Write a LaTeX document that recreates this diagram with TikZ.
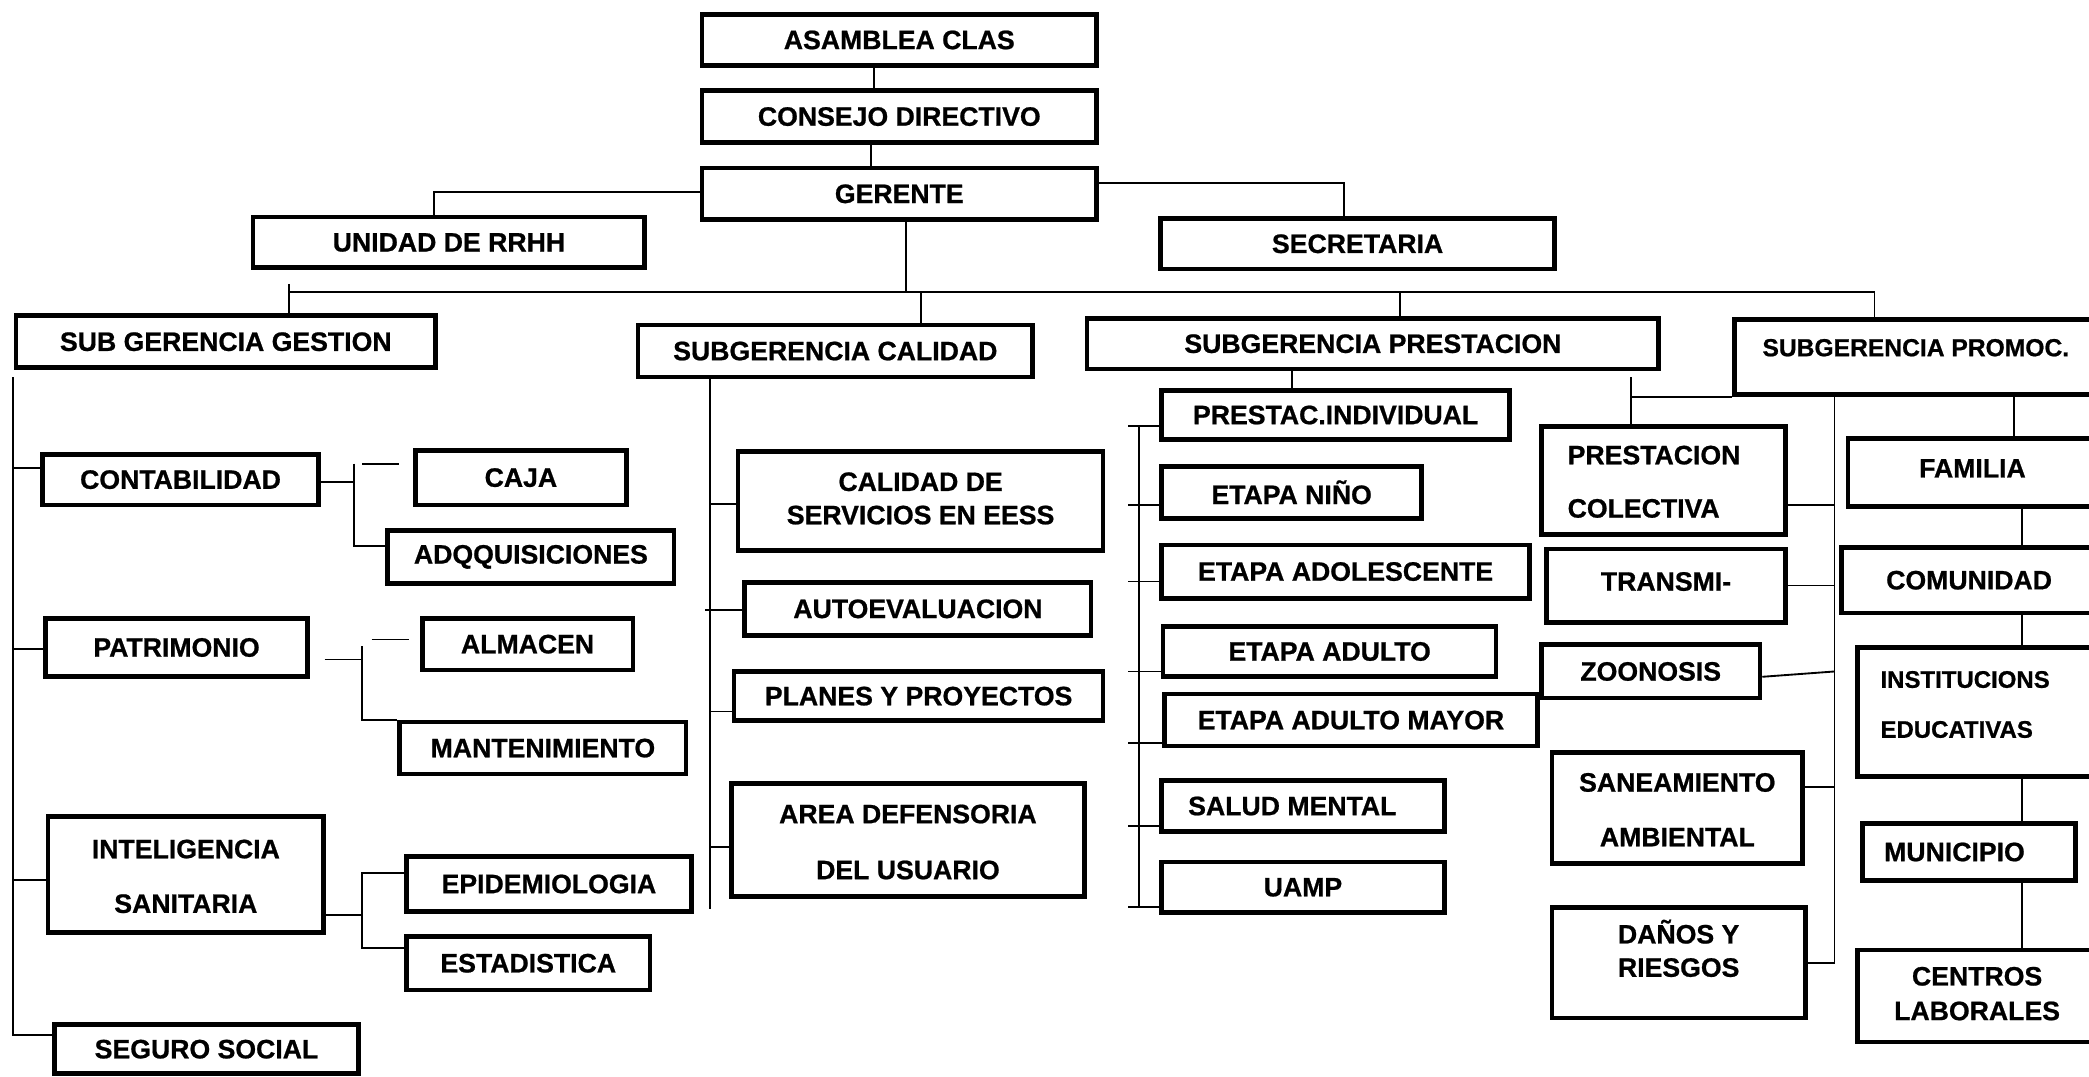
\documentclass[tikz,border=0pt]{standalone}
\usepackage{fontspec}
\setmainfont{Liberation Sans}[BoldFeatures={FakeBold=0.8}]

% box: name, left, top, right, bottom (picture units, y grows downward), text
\newcommand\orgbox[7][]{%
  \node[box,#1,minimum width={(#5)-(#3)},minimum height={(#6)-(#4)}]
    (#2) at ({((#3)+(#5))/2},{((#4)+(#6))/2}) {#7};}
% move a label inside its box without changing the box
\newcommand\nudge[3]{\raisebox{#2}[\height][\depth]{\hspace*{#1}#3\hspace*{-#1}}}
% two-line label: [alignment]{size}{baseline skip}{line 1}{line 2}
\newcommand\twolines[5][c]{{\fontsize{#2}{#3}\selectfont
  \begin{tabular}{@{}#1@{}}#4\\#5\end{tabular}}}

\begin{document}
\begin{tikzpicture}[x=1pt,y=-1pt,
  box/.style={draw,line width=3.5pt,inner sep=0pt,align=center,
    font=\fontsize{20}{24}\selectfont\bfseries},
  link/.style={line width=1.4pt}]
\useasboundingbox (0,0) rectangle (1568,808);
\clip (0,0) rectangle (1568,808);

% ---------- top of the hierarchy ----------
\orgbox{asam}{527}{11}{823}{49}{ASAMBLEA CLAS}
\orgbox{cons}{527}{68}{823}{107}{CONSEJO DIRECTIVO}
\orgbox{ger}{527}{126}{823}{165}{GERENTE}
\orgbox{rrhh}{190}{163}{484}{201}{UNIDAD DE RRHH}
\orgbox{secr}{871}{164}{1167}{202}{SECRETARIA}

% ---------- sub-managements ----------
\orgbox{sgg}{12}{237}{327}{276}{SUB GERENCIA GESTION}
\orgbox{sgc}{479}{244}{775}{283}{SUBGERENCIA CALIDAD}
\orgbox{sgp}{816}{239}{1245}{277}{SUBGERENCIA PRESTACION}
\orgbox{sgpr}{1302}{240}{1574}{296}{\nudge{0pt}{7pt}{\fontsize{18.5}{22}\selectfont SUBGERENCIA PROMOC.}}

% ---------- gestion ----------
\orgbox{conta}{32}{341}{239}{379}{CONTABILIDAD}
\orgbox{caja}{312}{338}{470}{379}{CAJA}
\orgbox{adq}{291}{398}{506}{438}{ADQQUISICIONES}
\orgbox{patr}{34}{464}{231}{508}{PATRIMONIO}
\orgbox{alma}{317}{464}{475}{503}{ALMACEN}
\orgbox{mant}{300}{542}{515}{581}{MANTENIMIENTO}
\orgbox{intel}{36}{613}{243}{700}{\twolines{20}{41}{INTELIGENCIA}{SANITARIA}}
\orgbox{epid}{305}{643}{519}{684}{EPIDEMIOLOGIA}
\orgbox{esta}{305}{703}{488}{743}{ESTADISTICA}
\orgbox{seg}{41}{769}{269}{806}{SEGURO SOCIAL}

% ---------- calidad ----------
\orgbox{cal1}{554}{339}{828}{413}{\twolines{20}{25}{CALIDAD DE}{SERVICIOS EN EESS}}
\orgbox{auto}{559}{437}{819}{477}{AUTOEVALUACION}
\orgbox{plan}{551}{504}{828}{541}{PLANES Y PROYECTOS}
\orgbox{area}{549}{588}{814}{673}{\twolines{20}{42}{AREA DEFENSORIA}{DEL USUARIO}}

% ---------- prestacion ----------
\orgbox{pind}{872}{293}{1133}{330}{PRESTAC.INDIVIDUAL}
\orgbox{nino}{872}{350}{1067}{389}{ETAPA NIÑO}
\orgbox{adol}{872}{409}{1148}{449}{ETAPA ADOLESCENTE}
\orgbox{adul}{873}{470}{1123}{508}{ETAPA ADULTO}
\orgbox{mayo}{874}{521}{1154}{560}{ETAPA ADULTO MAYOR}
\orgbox{salu}{872}{586}{1084}{624}{\nudge{-8pt}{0pt}{SALUD MENTAL}}
\orgbox{uamp}{872}{647}{1084}{685}{UAMP}

% ---------- promocion ----------
\orgbox{pcol}{1157}{320}{1340}{401}{\nudge{-7pt}{0pt}{\twolines[l]{20}{40}{PRESTACION}{COLECTIVA}}}
\orgbox{tran}{1161}{412}{1340}{467}{\nudge{0pt}{3pt}{TRANSMI-}}
\orgbox{zoon}{1157}{484}{1321}{524}{ZOONOSIS}
\orgbox{sane}{1165}{565}{1353}{648}{\twolines{20}{41}{SANEAMIENTO}{AMBIENTAL}}
\orgbox{dano}{1165}{681}{1355}{764}{\nudge{0pt}{7pt}{\twolines{20}{25}{DAÑOS Y}{RIESGOS}}}
\orgbox{fam}{1387}{329}{1574}{380}{\nudge{0pt}{3pt}{FAMILIA}}
\orgbox{com}{1382}{411}{1574}{460}{COMUNIDAD}
\orgbox{inst}{1394}{486}{1574}{583}{\nudge{-9pt}{7pt}{\twolines[l]{18}{37.5}{INSTITUCIONS}{EDUCATIVAS}}}
\orgbox{muni}{1398}{618}{1558}{661}{\nudge{-11pt}{0pt}{MUNICIPIO}}
\orgbox{cent}{1394}{713}{1574}{782}{\twolines{20}{26}{CENTROS}{LABORALES}}

% ---------- connectors: top ----------
\draw[link] ([xshift=-19pt]asam.south) -- ([xshift=-19pt]cons.north);
\draw[link] ([xshift=-21pt]cons.south) -- ([xshift=-21pt]ger.north);
\draw[link] ([yshift=1.5pt]ger.west) -| ([xshift=-11pt]rrhh.north);
\draw[link] ([yshift=8pt]ger.east) -| ([xshift=-10pt]secr.north);

\coordinate (busL) at (217,219);
\coordinate (busR) at (1407,219);
\draw[link] (busL) -- (busR);
\draw[link] ([xshift=5pt]ger.south) -- ([xshift=5pt]ger.south |- busL);
\draw[link] ([yshift=6pt]busL) -- (busL |- sgg.north);
\draw[link] ([xshift=64pt]sgc.north |- busL) -- ([xshift=64pt]sgc.north);
\draw[link] ([xshift=20.5pt]sgp.north |- busL) -- ([xshift=20.5pt]sgp.north);
\draw[link] (busR) -- (busR |- sgpr.north);

% ---------- connectors: gestion ----------
\coordinate (gTop) at (10,283);
\coordinate (gBot) at (10,777);
\draw[link] (gTop) -- (gBot);
\draw[link] ([yshift=9pt]conta.west) -| (gTop);
\draw[link] ([yshift=-1pt]patr.west) -| (gTop);
\draw[link] ([yshift=-4pt]intel.west) -| (gTop);
\draw[link] ([yshift=10.5pt]seg.west) -| (gTop);

\coordinate (cJ) at (266,348);
\draw[link] ([yshift=-1.5pt]conta.east) -- ([yshift=-1.5pt]conta.east -| cJ);
\draw[link] (cJ) |- ([yshift=8pt]adq.west);
\draw[link,shorten <=6pt,shorten >=10.5pt] (cJ) -- (cJ -| caja.west);

\coordinate (pJ) at (272,485);
\coordinate (pD) at (272,480);
\draw[link,shorten <=11pt] ([yshift=-9pt]patr.east) -- ([yshift=-9pt]patr.east -| pJ);
\draw[link] (pJ) |- (mant.north west);
\draw[link,shorten <=7pt,shorten >=8.5pt] (pD) -- (pD -| alma.west);

\coordinate (iJ) at (272,655.5);
\coordinate (iE) at ([yshift=11.5pt]esta.west);
\draw[link] ([yshift=-30pt]intel.east) -- ([yshift=-30pt]intel.east -| iJ);
\draw[link] ([yshift=8pt]epid.west) -| (iE -| iJ) -- (iE);

% ---------- connectors: calidad ----------
\coordinate (cTop) at (533,283);
\coordinate (cBot) at (533,682);
\draw[link] (cTop) -- (cBot);
\draw[link] ([yshift=-2pt]cal1.west) -| (cTop);
\draw[link,shorten >=-4pt] ([yshift=-1pt]auto.west) -- ([yshift=-1pt]auto.west -| cTop);
\draw[link] ([yshift=-11.5pt]plan.west) -| (cTop);
\draw[link] ([yshift=-5.5pt]area.west) -| (cTop);

% ---------- connectors: prestacion ----------
\coordinate (pX) at (970,0);
\draw[link] (sgp.south -| pX) -- (pind.north -| pX);
\coordinate (pTop) at (855,320);
\coordinate (pBot) at (855,681);
\draw[link] (pTop) -- (pBot);
\foreach \b/\s in {pind/-8.5,nino/-9.5,adol/-7.5,adul/-15,mayo/-17.5,salu/-15,uamp/-15}
  \draw[link,shorten >=-8pt] ([yshift=\s pt]\b.west) -- ([yshift=\s pt]\b.west -| pTop);

% ---------- connectors: promocion ----------
\coordinate (pcX) at (1224,283);
\draw[link] (sgpr.south west) -- (sgpr.south west -| pcX);
\draw[link] (pcX) -- (pcX |- pcol.north);

\coordinate (prT) at (1377,296);
\coordinate (prB) at (1377,722);
\draw[link] (prT) -- (prB);
\draw[link] ([yshift=-18.5pt]pcol.east) -- ([yshift=-18.5pt]pcol.east -| prT);
\draw[link] (tran.east) -- (tran.east -| prT);
\draw[link] ([yshift=-4pt]zoon.east) -- (zoon.east -| prT);
\draw[link] ([yshift=16pt]sane.east) -- ([yshift=16pt]sane.east -| prT);
\draw[link] (dano.east) -- (dano.east -| prB);

\coordinate (rX1) at (1512,0);
\coordinate (rX) at (1518,0);
\draw[link] (sgpr.south -| rX1) -- (fam.north -| rX1);
\draw[link] (fam.south -| rX) -- (com.north -| rX);
\draw[link] (com.south -| rX) -- (inst.north -| rX);
\draw[link] (inst.south -| rX) -- (muni.north -| rX);
\draw[link] (muni.south -| rX) -- (cent.north -| rX);
\end{tikzpicture}
\end{document}
